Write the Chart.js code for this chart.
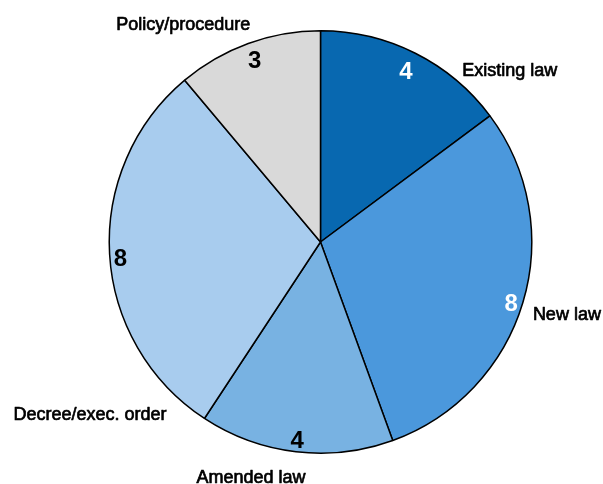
<!DOCTYPE html>
<html>
<head>
<meta charset="utf-8">
<script src="https://cdn.jsdelivr.net/npm/chart.js@4"></script>
<style>
  html, body { margin: 0; padding: 0; background: #fff; }
  #wrap { width: 603px; height: 484px; position: relative; }
</style>
</head>
<body>
<div id="wrap"><canvas id="c"></canvas></div>
<script>
// Categories and counts, clockwise from 12 o'clock
const categories = ['Existing law', 'New law', 'Amended law', 'Decree/exec. order', 'Policy/procedure'];
const counts = [4, 8, 4, 8, 3];
const sliceColors = ['#0868b0', '#4b98dc', '#78b2e2', '#a8ccee', '#d9d9d9'];
const valueColors = ['#ffffff', '#ffffff', '#000000', '#000000', '#000000'];

// Placement of value numbers (fraction of radius, angle nudge in degrees)
const valuePlace = [
  { r: 0.90, da: 0 },
  { r: 0.95, da: 1.5 },
  { r: 0.95, da: 0 },
  { r: 0.95, da: -1.5 },
  { r: 0.91, da: 0 }
];
// Category name offsets from the slice's outer edge midpoint
const namePlace = [
  { dx: 47, dy: 18, align: 'left' },
  { dx: 10, dy: 12, align: 'left' },
  { dx: -45, dy: 26, align: 'center' },
  { dx: 57, dy: 161, align: 'right' },
  { dx: -65, dy: -18, align: 'center' }
];

const sliceLabels = {
  id: 'sliceLabels',
  afterDatasetsDraw(chart) {
    const ctx = chart.ctx;
    const meta = chart.getDatasetMeta(0);
    ctx.save();
    ctx.textBaseline = 'middle';
    ctx.lineJoin = 'round';
    meta.data.forEach((arc, i) => {
      const p = arc.getProps(['x', 'y', 'startAngle', 'endAngle', 'outerRadius'], true);
      const mid = (p.startAngle + p.endAngle) / 2;
      // value number inside the slice
      const vp = valuePlace[i];
      const a = mid + vp.da * Math.PI / 180;
      const vx = p.x + Math.cos(a) * p.outerRadius * vp.r;
      const vy = p.y + Math.sin(a) * p.outerRadius * vp.r;
      ctx.font = 'bold 24px "Liberation Sans", Arial, sans-serif';
      ctx.fillStyle = valueColors[i];
      ctx.textAlign = 'center';
      ctx.fillText(String(counts[i]), vx, vy);
      // category name outside the pie
      const ex = p.x + Math.cos(mid) * p.outerRadius;
      const ey = p.y + Math.sin(mid) * p.outerRadius;
      const np = namePlace[i];
      ctx.font = '18px "Liberation Sans", Arial, sans-serif';
      ctx.fillStyle = '#000000';
      ctx.strokeStyle = '#000000';
      ctx.lineWidth = 0.7;
      ctx.textAlign = np.align;
      ctx.fillText(categories[i], ex + np.dx, ey + np.dy);
      ctx.strokeText(categories[i], ex + np.dx, ey + np.dy);
    });
    ctx.restore();
  }
};

new Chart(document.getElementById('c'), {
  type: 'pie',
  data: {
    labels: categories,
    datasets: [{
      data: counts,
      backgroundColor: sliceColors,
      borderColor: '#000000',
      borderWidth: 1.5,
      borderAlign: 'center'
    }]
  },
  options: {
    responsive: true,
    maintainAspectRatio: false,
    animation: false,
    layout: { padding: { left: 38, right: 0, top: 30, bottom: 30 } },
    plugins: {
      legend: { display: false },
      tooltip: { enabled: false }
    }
  },
  plugins: [sliceLabels]
});
</script>
</body>
</html>
